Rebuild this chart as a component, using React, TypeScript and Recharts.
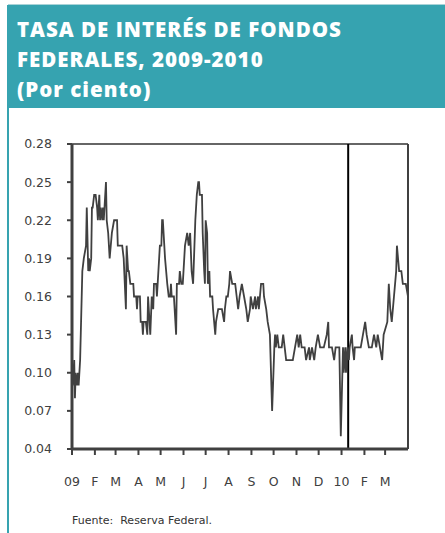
import React from "react";
import {
  LineChart,
  Line,
  XAxis,
  YAxis,
  ReferenceLine,
} from "recharts";

// días desde el 1 de enero de 2009
const DAYS = [
  0, 1, 3, 4, 5, 7, 8, 9, 11, 14, 16, 19, 20, 22, 23, 24, 26, 27, 28, 30, 32,
  34, 35, 37, 38, 39, 41, 42, 43, 46, 47, 49, 51, 54, 57, 61, 62, 65, 68, 70,
  73, 74, 76, 77, 79, 83, 84, 87, 88, 89, 92, 93, 95, 96, 97, 100, 102, 103,
  104, 106, 108, 110, 111, 114, 115, 116, 119, 121, 122, 123, 125, 126, 129,
  131, 133, 134, 135, 138, 141, 142, 145, 146, 148, 150, 153, 156, 158, 160,
  162, 164, 167, 169, 171, 172, 173, 176, 177, 179, 180, 181, 183, 184, 186,
  187, 190, 191, 194, 195, 198, 203, 206, 207, 209, 211, 213, 214, 217, 221,
  223, 225, 227, 230, 233, 236, 238, 241, 242, 245, 248, 249, 252, 253, 256,
  259, 260, 263, 265, 268, 271, 274, 275, 276, 278, 280, 284, 286, 288, 290,
  295, 299, 302, 305, 307, 309, 311, 315, 317, 321, 322, 325, 328, 330, 333,
  336, 341, 345, 347, 348, 352, 355, 357, 362, 364, 367, 368, 370, 371, 373,
  375, 376, 379, 380, 382, 383, 387, 391, 394, 397, 399, 402, 406, 409, 412,
  414, 417, 420, 422, 427, 429, 431, 433, 436, 439, 440, 443, 446, 448, 452,
  455,
];

const RATES = [
  0.11, 0.09, 0.11, 0.08, 0.1, 0.09, 0.1, 0.09, 0.11, 0.18, 0.19, 0.2, 0.23,
  0.18, 0.19, 0.18, 0.19, 0.23, 0.23, 0.24, 0.24, 0.23, 0.22, 0.24, 0.22, 0.23,
  0.22, 0.23, 0.22, 0.25, 0.22, 0.21, 0.19, 0.21, 0.22, 0.22, 0.2, 0.2, 0.2,
  0.19, 0.15, 0.2, 0.18, 0.18, 0.17, 0.17, 0.16, 0.16, 0.15, 0.16, 0.16, 0.14,
  0.14, 0.13, 0.14, 0.14, 0.13, 0.16, 0.15, 0.13, 0.16, 0.15, 0.17, 0.17, 0.16,
  0.17, 0.2, 0.2, 0.22, 0.22, 0.2, 0.19, 0.17, 0.16, 0.16, 0.17, 0.16, 0.16,
  0.13, 0.17, 0.17, 0.18, 0.17, 0.17, 0.2, 0.21, 0.2, 0.21, 0.18, 0.17, 0.22,
  0.24, 0.25, 0.25, 0.24, 0.24, 0.21, 0.18, 0.17, 0.22, 0.21, 0.17, 0.18, 0.16,
  0.16, 0.15, 0.13, 0.14, 0.15, 0.15, 0.14, 0.15, 0.16, 0.16, 0.17, 0.18, 0.17,
  0.17, 0.16, 0.15, 0.16, 0.17, 0.16, 0.15, 0.14, 0.15, 0.16, 0.15, 0.16, 0.15,
  0.16, 0.15, 0.17, 0.17, 0.16, 0.15, 0.14, 0.13, 0.07, 0.12, 0.13, 0.12, 0.13,
  0.12, 0.12, 0.13, 0.12, 0.11, 0.11, 0.11, 0.12, 0.13, 0.12, 0.13, 0.12, 0.12,
  0.11, 0.12, 0.11, 0.12, 0.11, 0.12, 0.13, 0.12, 0.12, 0.13, 0.14, 0.12, 0.12,
  0.11, 0.12, 0.12, 0.05, 0.12, 0.1, 0.12, 0.1, 0.12, 0.11, 0.12, 0.13, 0.12,
  0.11, 0.12, 0.12, 0.12, 0.13, 0.14, 0.13, 0.12, 0.12, 0.13, 0.12, 0.13, 0.12,
  0.11, 0.13, 0.14, 0.17, 0.15, 0.14, 0.16, 0.18, 0.2, 0.18, 0.18, 0.17, 0.17,
  0.16,
];

const MONTH_TICKS = [0, 31, 59, 90, 120, 151, 181, 212, 243, 273, 304, 334, 365, 396, 424];
const MONTH_LABELS = ["09", "F", "M", "A", "M", "J", "J", "A", "S", "O", "N", "D", "10", "F", "M"];
const Y_TICKS = [0.04, 0.07, 0.1, 0.13, 0.16, 0.19, 0.22, 0.25, 0.28];
const END_DAY = 455;
const MARKER_DAY = 374;

const TEAL = "#36a3b0";
const INK = "#404040";

const data = DAYS.map((d, i) => ({ day: d, rate: RATES[i] }));

const tickStyle = { fontFamily: "DejaVu Sans", fontSize: 12.5, fill: INK };

export default function App() {
  return (
    <div
      style={{
        position: "absolute",
        left: 0,
        top: 0,
        width: 445,
        height: 533,
        background: "#fff",
        overflow: "hidden",
      }}
    >
      <div style={{ position: "absolute", left: 8, top: 4, width: 437, height: 1, background: "#a9d3d8" }} />
      <div
        style={{
          position: "absolute",
          left: 8,
          top: 5,
          width: 437,
          height: 103,
          background: TEAL,
        }}
      />
      <div style={{ position: "absolute", left: 7, top: 5, width: 2, height: 528, background: TEAL }} />
      <div
        style={{
          position: "absolute",
          left: 17,
          top: 14,
          color: "#fff",
          fontFamily: "Open Sans",
          fontWeight: 800,
          fontSize: 20.5,
          lineHeight: "30px",
          letterSpacing: 1,
        }}
      >
        <div>TASA DE INTERÉS DE FONDOS</div>
        <div>FEDERALES, 2009-2010</div>
        <div>(Por ciento)</div>
      </div>

      <div style={{ position: "absolute", left: 0, top: 130 }}>
        <LineChart
          width={445}
          height={400}
          data={data}
          margin={{ top: 14, right: 37, bottom: 41, left: 0 }}
        >
          <XAxis
            dataKey="day"
            type="number"
            domain={[0, END_DAY]}
            ticks={MONTH_TICKS}
            tickFormatter={(v) => MONTH_LABELS[MONTH_TICKS.indexOf(v)] ?? ""}
            interval={0}
            height={40}
            tick={tickStyle}
            tickSize={6}
            tickMargin={22}
            axisLine={{ stroke: INK, strokeWidth: 3 }}
            tickLine={{ stroke: INK, strokeWidth: 2 }}
          />
          <YAxis
            type="number"
            domain={[0.04, 0.28]}
            ticks={Y_TICKS}
            tickFormatter={(v) => v.toFixed(2)}
            interval={0}
            width={72}
            tick={tickStyle}
            tickSize={5}
            tickMargin={15}
            axisLine={{ stroke: INK, strokeWidth: 3 }}
            tickLine={{ stroke: INK, strokeWidth: 2 }}
          />
          <ReferenceLine y={0.28} stroke="#666" strokeWidth={2} />
          <ReferenceLine x={END_DAY} stroke={INK} strokeWidth={2} />
          <ReferenceLine x={MARKER_DAY} stroke="#000" strokeWidth={2} />
          <Line
            type="linear"
            dataKey="rate"
            stroke={INK}
            strokeWidth={1.8}
            dot={false}
            isAnimationActive={false}
          />
        </LineChart>
      </div>

      <div
        style={{
          position: "absolute",
          left: 72,
          top: 514,
          fontFamily: "DejaVu Sans",
          fontSize: 11,
          color: "#333",
          whiteSpace: "pre",
        }}
      >
        {"Fuente:  Reserva Federal."}
      </div>
    </div>
  );
}
